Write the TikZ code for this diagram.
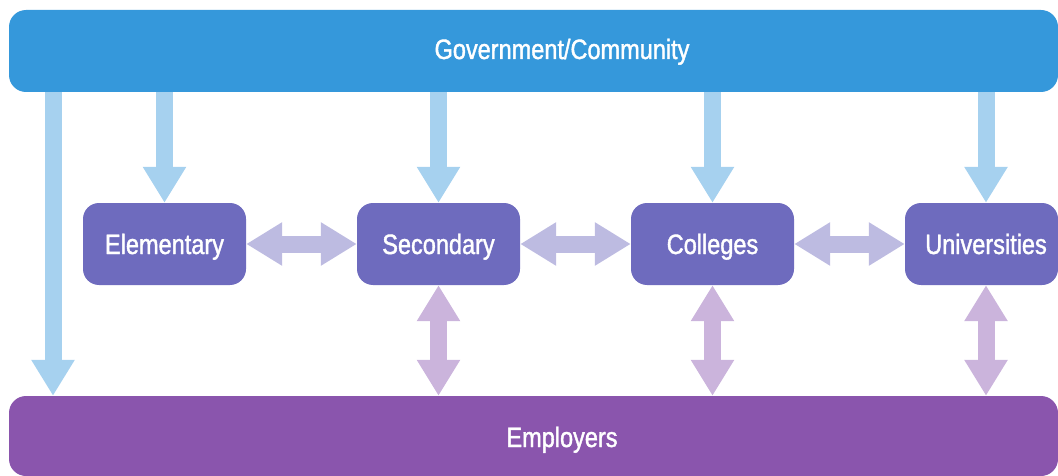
\documentclass[tikz,border=0pt]{standalone}
\usepackage{fontspec}
\setmainfont{Liberation Sans}[FakeStretch=0.84, FakeBold=1.4]
\usetikzlibrary{arrows.meta}
\definecolor{topblue}{HTML}{3598DB}
\definecolor{bluearrow}{HTML}{A6D1EF}
\definecolor{boxpurple}{HTML}{6E6BBE}
\definecolor{harrow}{HTML}{BDBBE1}
\definecolor{varrow}{HTML}{CBB4DC}
\definecolor{botpurple}{HTML}{8A55AD}
\tikzset{
  bar/.style={inner sep=0pt, minimum width=1049pt, minimum height=82pt, rounded corners=17pt, text=white,
    font=\fontsize{28}{32}\selectfont, text height=20pt, text depth=0pt},
  school/.style={fill=boxpurple, inner sep=0pt, minimum width=163pt, minimum height=82pt, rounded corners=16pt,
    text=white, font=\fontsize{28}{32}\selectfont, text height=20pt, text depth=0pt},
  downarr/.style={draw=bluearrow, line width=17pt, -{Triangle[width=41pt,length=36pt]}},
  harr/.style={draw=harrow, line width=17pt, {Triangle[width=41pt,length=36pt]}-{Triangle[width=41pt,length=36pt]}},
  varr/.style={draw=varrow, line width=17pt, {Triangle[width=41pt,length=36pt]}-{Triangle[width=41pt,length=36pt]}},
}
\begin{document}
\begin{tikzpicture}[x=1pt,y=-1pt]
\useasboundingbox (0,0) rectangle (1058,476);
\node[bar, fill=topblue, text depth=4pt] (gov) at (533.5,51) {\hspace*{57pt}Government/Community};
\node[bar, fill=botpurple, minimum height=80pt, text depth=0pt, text height=22pt] (emp) at (533.5,436) {\hspace*{57pt}Employers};
\node[school] (ele) at (164.5,244) {Elementary};
\node[school] (sec) at (438.5,244) {Secondary};
\node[school] (col) at (712.5,244) {Colleges};
\node[school, minimum width=153pt] (uni) at (981.5,244) {\hspace*{9pt}Universities};
\coordinate (lx) at (53,0);
\coordinate (ux) at (986,0);
% government arrows
\draw[downarr] (gov.south -| lx) -- (emp.north -| lx);
\draw[downarr] (gov.south -| ele.north) -- (ele.north);
\draw[downarr] (gov.south -| sec.north) -- (sec.north);
\draw[downarr] (gov.south -| col.north) -- (col.north);
\draw[downarr] (gov.south -| ux) -- (uni.north -| ux);
% horizontal arrows
\draw[harr] (ele.east) -- (sec.west);
\draw[harr] (sec.east) -- (col.west);
\draw[harr] (col.east) -- (uni.west);
% employer arrows
\draw[varr] (sec.south) -- (emp.north -| sec.south);
\draw[varr] (col.south) -- (emp.north -| col.south);
\draw[varr] (uni.south -| ux) -- (emp.north -| ux);
\end{tikzpicture}
\end{document}
